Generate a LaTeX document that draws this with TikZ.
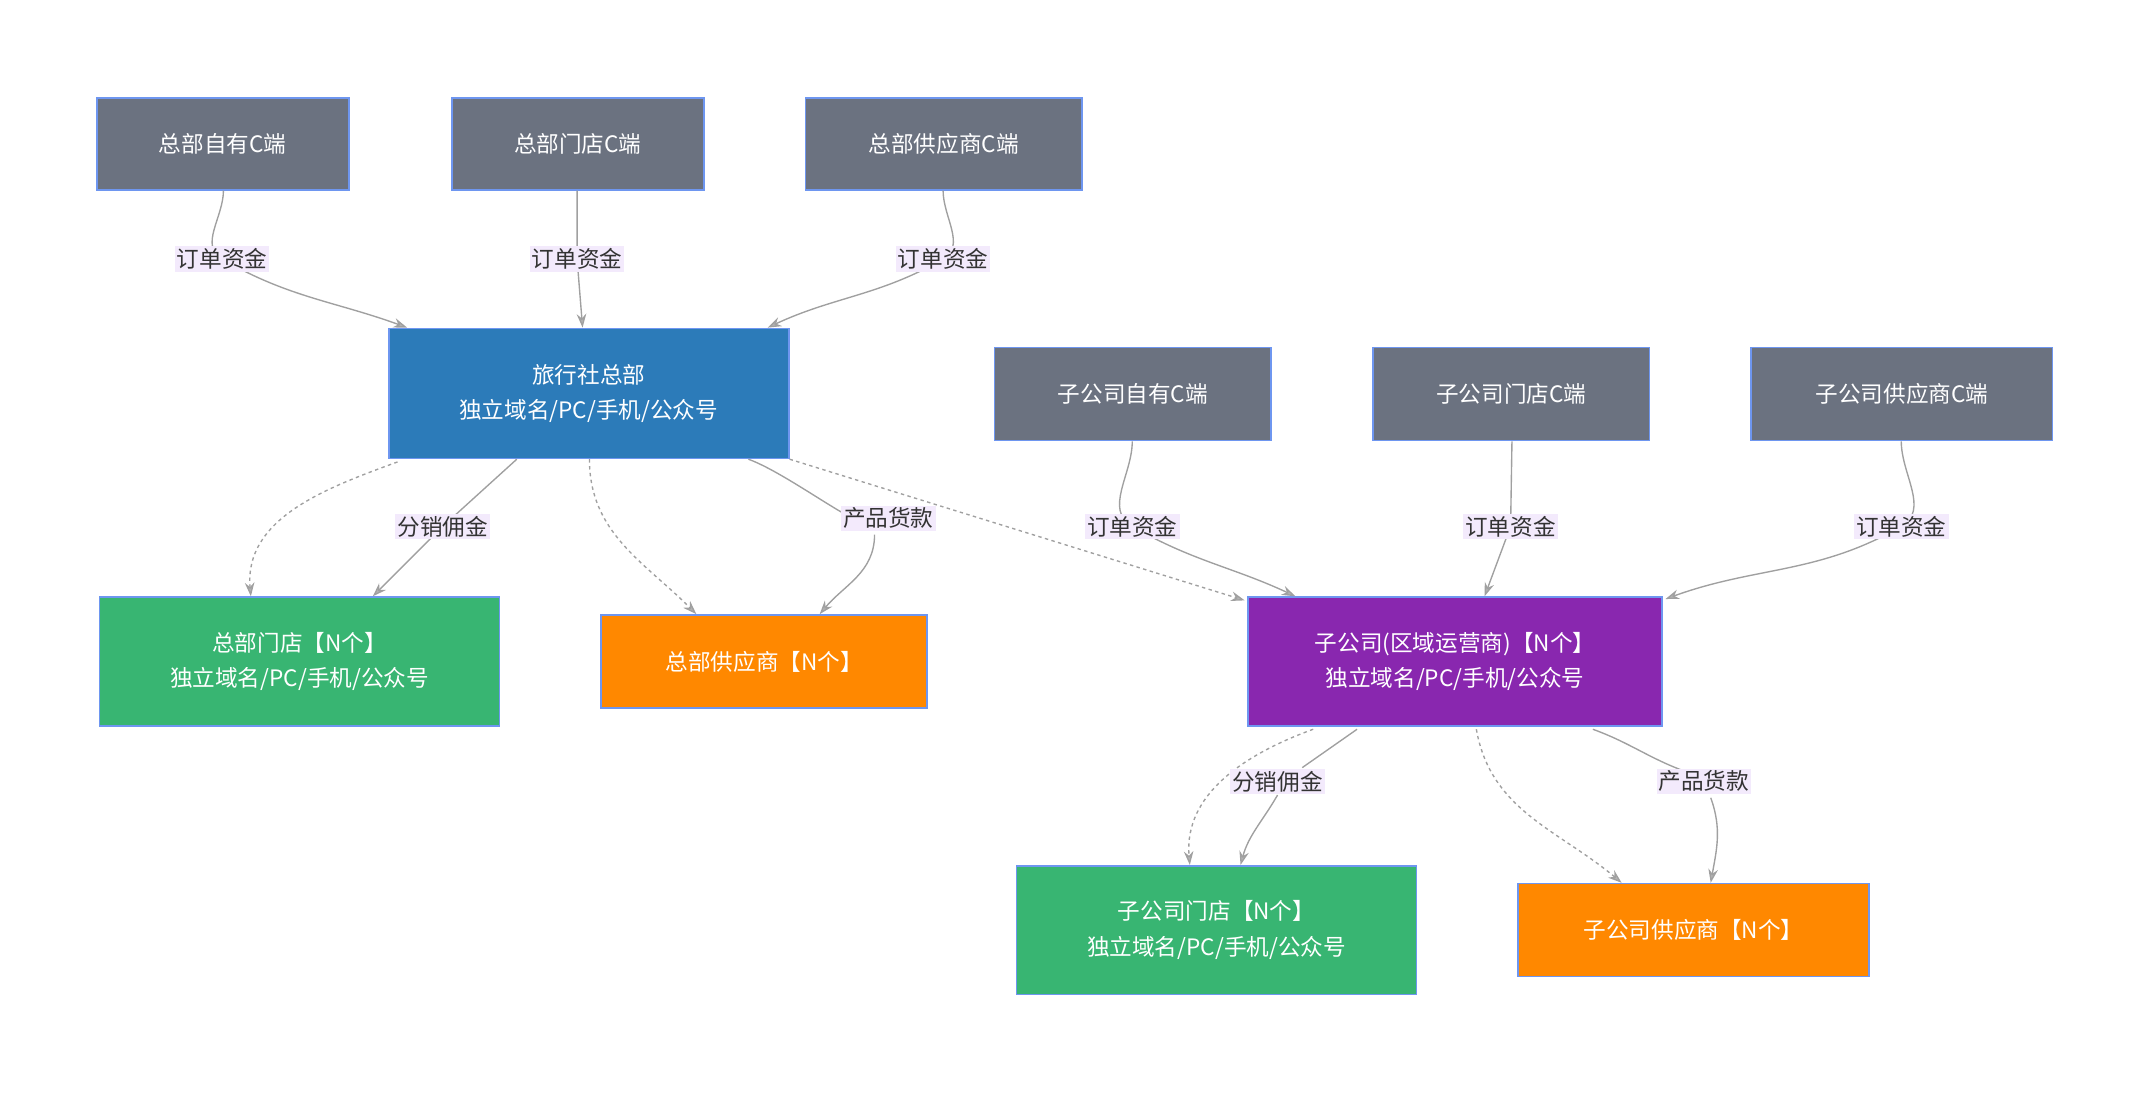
\documentclass[tikz,border=0pt]{standalone}
\usepackage{fontspec}
\setmainfont{Noto Sans CJK SC}
\usetikzlibrary{arrows.meta}
\definecolor{gr}{RGB}{107,114,128}
\definecolor{bl}{RGB}{44,123,185}
\definecolor{gn}{RGB}{56,181,114}
\definecolor{og}{RGB}{255,136,0}
\definecolor{pu}{RGB}{137,39,175}
\definecolor{bd}{RGB}{110,150,240}
\definecolor{lb}{RGB}{243,234,252}
\definecolor{ln}{RGB}{160,160,160}
\begin{document}
\begin{tikzpicture}[x=1pt,y=-1pt,
 box/.style={draw=bd,line width=1.2pt,text=white,font=\fontsize{16.5}{26}\selectfont,align=center,inner sep=0pt,outer sep=0pt},
 lab/.style={fill=lb,text=black!80,font=\fontsize{16.5}{19}\selectfont,inner sep=1.5pt},
 e/.style={draw=ln,line width=1pt,-{Stealth[length=10pt,width=7pt,fill=ln!80]}},
 d/.style={e,dash pattern=on 2.5pt off 2.5pt}]
\useasboundingbox (0,0) rectangle (1567,797);
\newcommand\bx[7]{\node[box,fill=#6,minimum width=#4-#2-1.2,minimum height=#5-#3-1.2] (#1) at ({(#2+#4)/2},{(#3+#5)/2}) {#7};}
\bx{a1}{70}{71}{255}{139}{gr}{总部自有C端}
\bx{a2}{329}{71}{514}{139}{gr}{总部门店C端}
\bx{a3}{587}{71}{790}{139}{gr}{总部供应商C端}
\bx{hq}{283}{239}{576}{335}{bl}{旅行社总部\\独立域名/PC/手机/公众号}
\bx{b1}{725}{253}{928}{322}{gr}{子公司自有C端}
\bx{b2}{1001}{253}{1204}{322}{gr}{子公司门店C端}
\bx{b3}{1277}{253}{1498}{322}{gr}{子公司供应商C端}
\bx{hs}{72}{435}{365}{530}{gn}{总部门店【N个】\\独立域名/PC/手机/公众号}
\bx{hp}{438}{448}{677}{517}{og}{总部供应商【N个】}
\bx{sub}{910}{435}{1213}{530}{pu}{子公司(区域运营商)【N个】\\独立域名/PC/手机/公众号}
\bx{ss}{741}{631}{1034}{726}{gn}{子公司门店【N个】\\独立域名/PC/手机/公众号}
\bx{sp}{1107}{644}{1364}{713}{og}{子公司供应商【N个】}
% top edges
\draw[e] (163,139) to[out=-90,in=150] (162,189) to[out=-30,in=160] (297,239);
\draw[e] (421,139) -- (421,189) -- (425,239);
\draw[e] (688,139) to[out=-90,in=30] (688,189) to[out=210,in=25] (560,239);
\draw[e] (826,322) to[out=-90,in=150] (826,384) to[out=-30,in=155] (945,435);
\draw[e] (1103,322) -- (1102,384) -- (1083,435);
\draw[e] (1387,322) to[out=-90,in=30] (1387,384) to[out=210,in=20] (1215,437);
% hq down
\draw[d] (290,337) to[out=200,in=95] (183,435);
\draw[e] (377,335) -- (323,384) -- (272,435);
\draw[d] (430,335) to[out=-90,in=135] (508,448);
\draw[e] (546,335) to[out=-20,in=-60] (630,372) (638,390) to[out=-90,in=50] (598,448);
\draw[d] (576,335) -- (908,438);
% sub down
\draw[d] (958,532) to[out=200,in=95] (868,631);
\draw[e] (990,532) -- (950,560) (932,580) to[out=-120,in=75] (905,631);
\draw[d] (1077,532) to[out=-80,in=140] (1183,644);
\draw[e] (1162,532) to[out=-20,in=160] (1230,563) (1248,582) to[out=-70,in=80] (1248,644);
% labels
\node[lab] at (162,189) {订单资金};
\node[lab] at (421,189) {订单资金};
\node[lab] at (688,189) {订单资金};
\node[lab] at (826,384) {订单资金};
\node[lab] at (1102,384) {订单资金};
\node[lab] at (1387,384) {订单资金};
\node[lab] at (323,384) {分销佣金};
\node[lab] at (648,378) {产品货款};
\node[lab] at (932,570) {分销佣金};
\node[lab] at (1243,570) {产品货款};
\end{tikzpicture}
\end{document}
